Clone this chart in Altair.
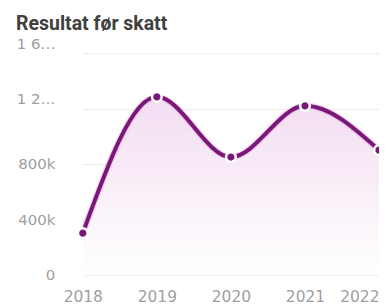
import altair as alt
import pandas as pd

years = ["2018", "2019", "2020", "2021", "2022"]
values = [300000, 1285000, 850000, 1220000, 900000]

df = pd.DataFrame({"year": years, "value": values})

x = alt.X("year:O", title=None,
          scale=alt.Scale(type="point", padding=0),
          axis=alt.Axis(labelAngle=0, domain=False, ticks=False, grid=False,
                        labelColor="#a0a0a0", labelFont="DejaVu Sans", labelFontSize=15.5,
                        labelPadding=15,
                        labelAlign=alt.expr("datum.value == '2022' ? 'right' : 'center'")))
y = alt.Y("value:Q", title=None,
          scale=alt.Scale(domain=[0, 1600000]),
          axis=alt.Axis(values=[0, 400000, 800000, 1200000, 1600000],
                        domain=False, ticks=False, gridColor="#ebebeb",
                        labelColor="#a0a0a0", labelFont="DejaVu Sans", labelFontSize=15,
                        labelPadding=28, labelLimit=46,
                        labelExpr="datum.value == 0 ? '0' : replace(format(datum.value/1000, ',') + 'k', ',', ' ')",
                        labelOffset=alt.expr("datum.value >= 1200000 ? -10 : 0")))

base = alt.Chart(df).encode(x=x, y=y)

area = base.mark_area(
    interpolate="monotone",
    color=alt.Gradient(gradient="linear",
                       stops=[alt.GradientStop(color="#ffffff", offset=0),
                              alt.GradientStop(color="#f3ddf1", offset=1)],
                       x1=1, x2=1, y1=1, y2=0))
halo = base.mark_line(interpolate="monotone", color="#e9a0e4", strokeWidth=6.5, opacity=0.45)
line = base.mark_line(interpolate="monotone", color="#7a1878", strokeWidth=4)
points = base.mark_point(filled=True, color="#7a1878", size=95, opacity=1,
                         stroke="white", strokeWidth=2.5)

chart = (area + halo + line + points).properties(
    width=297, height=222,
    title=alt.Title("Resultat før skatt", anchor="start", frame="bounds",
                    font="Roboto", fontSize=19.5, fontWeight="bold", color="#404040",
                    offset=2),
    autosize=alt.AutoSizeParams(type="none"),
    padding={"left": 75, "top": 45, "right": 0, "bottom": 30},
).configure_view(stroke=None)

chart.save("out.html", embed_options={"renderer": "svg", "actions": False})
